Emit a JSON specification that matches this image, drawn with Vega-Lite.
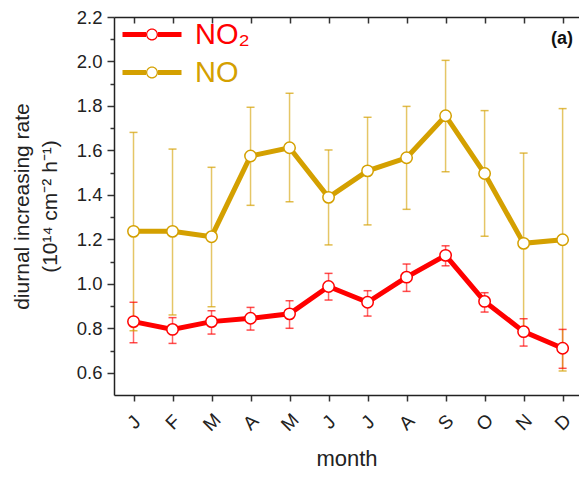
{
  "$schema": "https://vega.github.io/schema/vega-lite/v6.json",
  "width": 465,
  "height": 378,
  "autosize": "none",
  "padding": {"left": 114, "top": 17, "right": 0, "bottom": 82},
  "background": "white",
  "config": {
    "font": "Liberation Sans",
    "view": {"stroke": null},
    "axis": {"grid": false, "domainColor": "#222", "domainWidth": 1.5, "tickColor": "#333", "tickWidth": 1.5, "labelColor": "#222", "titleColor": "#222", "labelFont": "Liberation Sans", "titleFont": "Liberation Sans", "titleFontWeight": "normal"}
  },
  "title": {"text": "(a)", "anchor": "end", "orient": "top", "offset": -40, "fontSize": 18, "fontWeight": "bold", "color": "#111", "dx": -6},
  "data": {
    "values": [
      {"m": 1, "s": "NO₂", "v": 0.83, "lo": 0.735, "hi": 0.917},
      {"m": 2, "s": "NO₂", "v": 0.795, "lo": 0.732, "hi": 0.848},
      {"m": 3, "s": "NO₂", "v": 0.83, "lo": 0.774, "hi": 0.879},
      {"m": 4, "s": "NO₂", "v": 0.845, "lo": 0.792, "hi": 0.894},
      {"m": 5, "s": "NO₂", "v": 0.865, "lo": 0.80, "hi": 0.924},
      {"m": 6, "s": "NO₂", "v": 0.988, "lo": 0.927, "hi": 1.047},
      {"m": 7, "s": "NO₂", "v": 0.917, "lo": 0.855, "hi": 0.969},
      {"m": 8, "s": "NO₂", "v": 1.03, "lo": 0.966, "hi": 1.089},
      {"m": 9, "s": "NO₂", "v": 1.128, "lo": 1.081, "hi": 1.171},
      {"m": 10, "s": "NO₂", "v": 0.921, "lo": 0.873, "hi": 0.96},
      {"m": 11, "s": "NO₂", "v": 0.785, "lo": 0.72, "hi": 0.843},
      {"m": 12, "s": "NO₂", "v": 0.71, "lo": 0.62, "hi": 0.795},
      {"m": 1, "s": "NO", "v": 1.236, "lo": 0.789, "hi": 1.681},
      {"m": 2, "s": "NO", "v": 1.236, "lo": 0.86, "hi": 1.606},
      {"m": 3, "s": "NO", "v": 1.212, "lo": 0.897, "hi": 1.524},
      {"m": 4, "s": "NO", "v": 1.575, "lo": 1.353, "hi": 1.794},
      {"m": 5, "s": "NO", "v": 1.612, "lo": 1.369, "hi": 1.857},
      {"m": 6, "s": "NO", "v": 1.389, "lo": 1.175, "hi": 1.602},
      {"m": 7, "s": "NO", "v": 1.508, "lo": 1.265, "hi": 1.749},
      {"m": 8, "s": "NO", "v": 1.567, "lo": 1.335, "hi": 1.798},
      {"m": 9, "s": "NO", "v": 1.756, "lo": 1.504, "hi": 2.005},
      {"m": 10, "s": "NO", "v": 1.496, "lo": 1.214, "hi": 1.779},
      {"m": 11, "s": "NO", "v": 1.182, "lo": 0.773, "hi": 1.588},
      {"m": 12, "s": "NO", "v": 1.198, "lo": 0.608, "hi": 1.788}
    ]
  },
  "resolve": {"axis": {"x": "independent", "y": "independent"}},
  "layer": [
    {
      "mark": {"type": "rule", "strokeWidth": 1.5, "opacity": 0.6},
      "encoding": {
        "x": {"field": "m", "type": "quantitative", "scale": {"domain": [0.5, 12.42], "nice": false, "zero": false},
          "axis": {"orient": "bottom", "values": [1,2,3,4,5,6,7,8,9,10,11,12], "labelExpr": "['J','F','M','A','M','J','J','A','S','O','N','D'][datum.value-1]", "labelAngle": -45, "labelAlign": "center", "labelBaseline": "middle", "labelPadding": 21, "labelFontSize": 19, "tickSize": 6, "title": "month", "titleFontSize": 22, "titlePadding": 14}},
        "y": {"field": "lo", "type": "quantitative", "scale": {"domain": [0.5, 2.2], "nice": false, "zero": false},
          "axis": {"orient": "left", "values": [0.6,0.7,0.8,0.9,1.0,1.1,1.2,1.3,1.4,1.5,1.6,1.7,1.8,1.9,2.0,2.1,2.2],
            "labelExpr": "round(datum.value*10) % 2 == 1 ? '' : format(datum.value, '.1f')",
            "tickSize": {"condition": {"test": "round(datum.value*10) % 2 == 1", "value": 4}, "value": 7},
            "labelFontSize": 18.5, "labelPadding": 5, "title": ["diurnal increasing rate", "(10¹⁴ cm⁻² h⁻¹)"], "titleFontSize": 21, "titlePadding": 16, "titleLineHeight": 28}},
        "y2": {"field": "hi"},
        "color": {"field": "s", "type": "nominal", "scale": {"domain": ["NO₂", "NO"], "range": ["#ff0000", "#d4a000"]},
          "legend": {"orient": "none", "legendX": 23.5, "legendY": 3, "title": null, "padding": 0,
            "symbolType": "M-2.95,-0.25H-0.6V0.25H-2.95Z M0.6,-0.25H2.95V0.25H0.6Z M0.6,0A0.6,0.6 0 1,0 -0.6,0A0.6,0.6 0 1,0 0.6,0Z M0.47,0A0.47,0.47 0 1,1 -0.47,0A0.47,0.47 0 1,1 0.47,0Z",
            "symbolSize": 400, "symbolStrokeWidth": 0, "symbolOpacity": 1, "labelFontSize": 29, "labelOffset": 28.5, "rowPadding": 8, "labelFont": "Liberation Sans",
            "encode": {
              "symbols": {"update": {"fill": {"scale": "color", "field": "value"}, "stroke": {"value": "transparent"}, "strokeWidth": {"value": 0}, "opacity": {"value": 1}}},
              "labels": {"update": {"fill": {"scale": "color", "field": "value"}}}
            }}}
      }
    },
    {
      "mark": {"type": "tick", "orient": "horizontal", "size": 8, "thickness": 1.5, "opacity": 0.7},
      "encoding": {
        "x": {"field": "m", "type": "quantitative",
          "axis": {"orient": "top", "values": [1,2,3,4,5,6,7,8,9,10,11,12], "labels": false, "tickSize": -6, "title": null}},
        "y": {"field": "lo", "type": "quantitative", "axis": null},
        "color": {"field": "s", "type": "nominal"}
      }
    },
    {
      "mark": {"type": "tick", "orient": "horizontal", "size": 8, "thickness": 1.5, "opacity": 0.7},
      "encoding": {
        "x": {"field": "m", "type": "quantitative", "axis": null},
        "y": {"field": "hi", "type": "quantitative", "axis": null},
        "color": {"field": "s", "type": "nominal"}
      }
    },
    {
      "mark": {"type": "line", "strokeWidth": 5},
      "encoding": {
        "x": {"field": "m", "type": "quantitative", "axis": null},
        "y": {"field": "v", "type": "quantitative", "axis": null},
        "color": {"field": "s", "type": "nominal"}
      }
    },
    {
      "mark": {"type": "point", "shape": "circle", "filled": false, "fill": "white", "fillOpacity": 1, "opacity": 1, "size": 130, "strokeWidth": 1.5},
      "encoding": {
        "x": {"field": "m", "type": "quantitative", "axis": null},
        "y": {"field": "v", "type": "quantitative", "axis": null},
        "color": {"field": "s", "type": "nominal"}
      }
    }
  ]
}
